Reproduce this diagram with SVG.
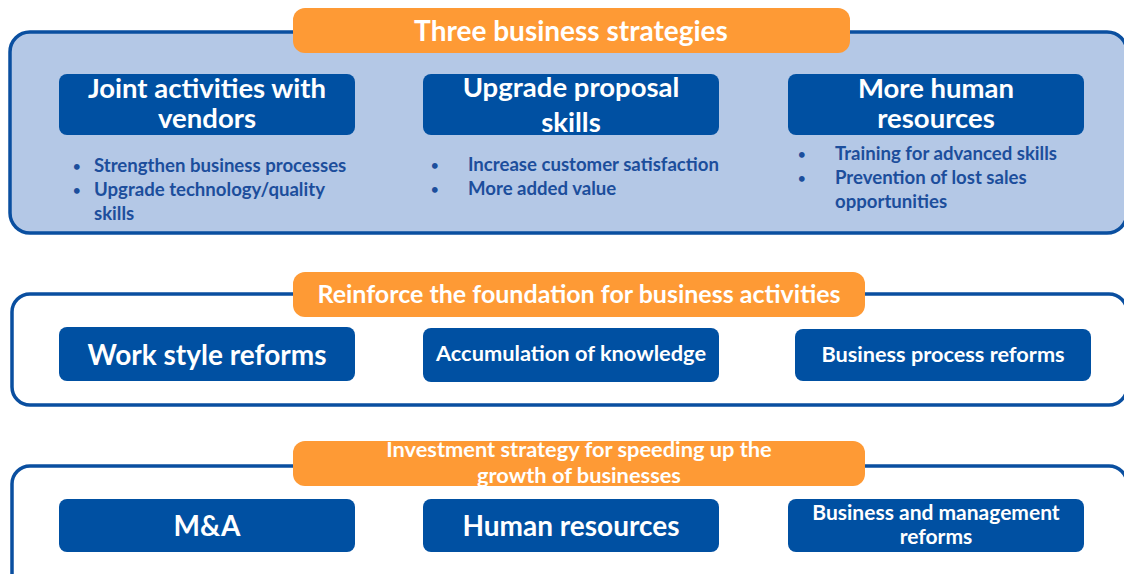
<svg xmlns="http://www.w3.org/2000/svg" width="1124" height="574" viewBox="0 0 1124 574">
<style>
text{font-family:Lato,"Open Sans","Liberation Sans",sans-serif;font-weight:bold}
.panel{stroke:#0A4FA0;stroke-width:3.5}
.pill{fill:#FE9A35}
.box{fill:#0050A2}
.w{fill:#FFFFFF;text-anchor:middle}
.b{fill:#1C4E9C;font-size:18.6px}
.d{fill:#1C4E9C;font-size:13px}
</style>
<rect width="1124" height="574" fill="#FFFFFF"/>
<g id="panel1">
<rect class="panel" x="10" y="32" width="1117" height="201" rx="20" fill="#B4C8E6"/>
<rect class="pill" x="293" y="8" width="557" height="45" rx="12"/>
<text class="w" x="571" y="41" font-size="28">Three business strategies</text>
</g>
<g id="joint">
<rect class="box" x="59" y="74" width="296" height="61" rx="8"/>
<text class="w" x="207" y="98" font-size="27.5">Joint activities with</text>
<text class="w" x="207" y="128" font-size="27.5">vendors</text>
<text class="d" x="73" y="171">•</text><text class="b" x="94" y="172">Strengthen business processes</text>
<text class="d" x="73" y="195">•</text><text class="b" x="94" y="196">Upgrade technology/quality</text>
<text class="b" x="94" y="220">skills</text>
</g>
<g id="upgrade">
<rect class="box" x="423" y="74" width="296" height="61" rx="8"/>
<text class="w" x="571" y="97" font-size="27.5">Upgrade proposal</text>
<text class="w" x="571" y="132" font-size="27.5">skills</text>
<text class="d" x="431" y="170">•</text><text class="b" x="468" y="171">Increase customer satisfaction</text>
<text class="d" x="431" y="194">•</text><text class="b" x="468" y="195">More added value</text>
</g>
<g id="human">
<rect class="box" x="788" y="74" width="296" height="61" rx="8"/>
<text class="w" x="936" y="98" font-size="27.5">More human</text>
<text class="w" x="936" y="128" font-size="27.5">resources</text>
<text class="d" x="798" y="159">•</text><text class="b" x="835" y="160">Training for advanced skills</text>
<text class="d" x="798" y="183">•</text><text class="b" x="835" y="184">Prevention of lost sales</text>
<text class="b" x="835" y="208">opportunities</text>
</g>
<g id="panel2">
<rect class="panel" x="12" y="294" width="1115" height="111" rx="18" fill="#FFFFFF"/>
<rect class="pill" x="293" y="272" width="572" height="45" rx="12"/>
<text class="w" x="579" y="303" font-size="25">Reinforce the foundation for business activities</text>
</g>
<g id="workstyle">
<rect class="box" x="59" y="327" width="296" height="54" rx="8"/>
<text class="w" x="207" y="365" font-size="28">Work style reforms</text>
</g>
<g id="knowledge">
<rect class="box" x="423" y="328" width="296" height="54" rx="8"/>
<text class="w" x="571" y="361" font-size="21.8">Accumulation of knowledge</text>
</g>
<g id="bpr">
<rect class="box" x="795" y="329" width="296" height="52" rx="8"/>
<text class="w" x="943" y="362" font-size="21.7">Business process reforms</text>
</g>
<g id="panel3">
<rect class="panel" x="12" y="466" width="1115" height="130" rx="18" fill="#FFFFFF"/>
<rect class="pill" x="293" y="441" width="572" height="45" rx="12"/>
<text class="w" x="579" y="457" font-size="21.8">Investment strategy for speeding up the</text>
<text class="w" x="579" y="483" font-size="21.8">growth of businesses</text>
</g>
<g id="ma">
<rect class="box" x="59" y="499" width="296" height="53" rx="8"/>
<text class="w" x="207" y="536" font-size="28">M&amp;A</text>
</g>
<g id="hr">
<rect class="box" x="423" y="499" width="296" height="53" rx="8"/>
<text class="w" x="571" y="536" font-size="28">Human resources</text>
</g>
<g id="bmr">
<rect class="box" x="788" y="499" width="296" height="53" rx="8"/>
<text class="w" x="936" y="520" font-size="21">Business and management</text>
<text class="w" x="936" y="544" font-size="21">reforms</text>
</g>
<g id="connectors"/>
</svg>
